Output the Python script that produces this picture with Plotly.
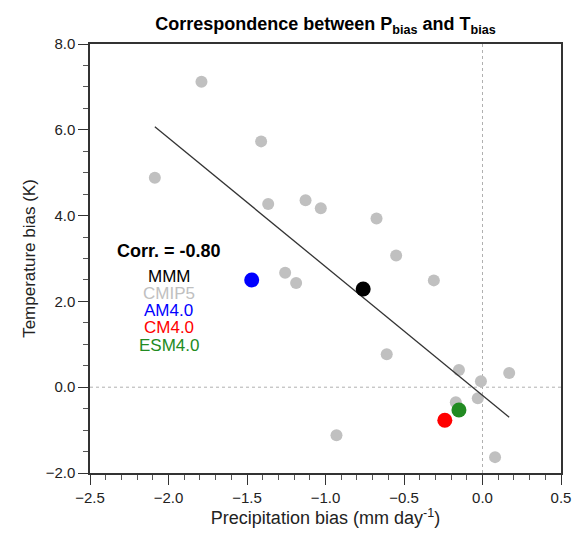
import plotly.graph_objects as go

# CMIP5 individual models
cmip5_p = [-1.79, -2.087, -1.41, -1.365, -1.127, -1.03, -0.675, -0.55, -1.257, -1.187,
           -0.31, -0.61, -0.15, 0.17, -0.01, -0.03, -0.17, -0.93, 0.08]
cmip5_t = [7.12, 4.88, 5.73, 4.27, 4.36, 4.17, 3.93, 3.07, 2.67, 2.43,
           2.49, 0.77, 0.40, 0.33, 0.14, -0.26, -0.35, -1.12, -1.63]

# Highlighted models
model_names = ["MMM", "AM4.0", "CM4.0", "ESM4.0"]
model_p = [-0.76, -1.47, -0.24, -0.15]
model_t = [2.29, 2.50, -0.77, -0.53]
model_colors = ["#000000", "#0000ff", "#ff0000", "#228b22"]

# Regression line
fit_p = [-2.087, 0.17]
fit_t = [6.07, -0.70]

corr_text = "Corr. = -0.80"
legend_names = ["MMM", "CMIP5", "AM4.0", "CM4.0", "ESM4.0"]
legend_colors = ["#000000", "#c0c0c0", "#0000ff", "#ff0000", "#228b22"]

FONT = "Liberation Sans, Arial, Helvetica, sans-serif"

fig = go.Figure()

# zero reference lines
fig.add_trace(go.Scatter(x=[-2.5, 0.5], y=[0, 0], mode="lines",
                         line=dict(color="#b0b0b0", width=1, dash="dot"),
                         hoverinfo="skip", showlegend=False))
fig.add_trace(go.Scatter(x=[0, 0], y=[-2, 8], mode="lines",
                         line=dict(color="#b0b0b0", width=1, dash="dot"),
                         hoverinfo="skip", showlegend=False))

fig.add_trace(go.Scatter(x=cmip5_p, y=cmip5_t, mode="markers",
                         marker=dict(color="#c0c0c0", size=12),
                         name="CMIP5", showlegend=False))

fig.add_trace(go.Scatter(x=fit_p, y=fit_t, mode="lines",
                         line=dict(color="#333333", width=1.3),
                         showlegend=False))

for n, px, ty, c in zip(model_names, model_p, model_t, model_colors):
    fig.add_trace(go.Scatter(x=[px], y=[ty], mode="markers",
                             marker=dict(color=c, size=15), name=n, showlegend=False))

# annotations: correlation + colored legend text
fig.add_annotation(x=-2.0, y=3.17, text="<b>" + corr_text + "</b>", showarrow=False,
                   xref="x", yref="y", font=dict(family=FONT, size=18, color="black"))
leg_y = [2.58, 2.19, 1.79, 1.39, 0.98]
for name, col, yy in zip(legend_names, legend_colors, leg_y):
    fig.add_annotation(x=-2.0, y=yy, text=name, showarrow=False, xref="x", yref="y",
                       font=dict(family=FONT, size=17, color=col))

axis_common = dict(showline=True, linecolor="#333333", linewidth=1.5, mirror=True,
                   ticks="outside", ticklen=10, tickwidth=1.3, tickcolor="#333333",
                   showgrid=False, zeroline=False, automargin=False,
                   tickfont=dict(family=FONT, size=15, color="#222222"))

fig.update_xaxes(range=[-2.5, 0.5], dtick=0.5, tickformat=".1f",
                 minor=dict(dtick=0.1, ticks="outside", ticklen=5, tickcolor="#555555", tickwidth=1),
                 title=dict(text="Precipitation bias (mm day<sup>-1</sup>)",
                            font=dict(family=FONT, size=18, color="#222222"), standoff=6),
                 **axis_common)
fig.update_yaxes(range=[-2, 8], dtick=2, tickformat=".1f",
                 minor=dict(dtick=0.5, ticks="outside", ticklen=5, tickcolor="#555555", tickwidth=1),
                 title=dict(text="Temperature bias (K)",
                            font=dict(family=FONT, size=17, color="#222222"), standoff=6),
                 **axis_common)

fig.update_layout(
    width=573, height=536,
    margin=dict(l=90, r=12, t=44, b=63),
    plot_bgcolor="white", paper_bgcolor="white",
    title=dict(text="<b>Correspondence between P<sub>bias</sub> and T<sub>bias</sub></b>",
               x=325.5 / 573, xanchor="center", y=1 - 24 / 536, yanchor="middle",
               font=dict(family=FONT, size=18, color="black")),
    showlegend=False,
)

fig.write_html("out.html", config={"displayModeBar": False},
               post_script="document.body.style.margin='0';document.body.style.padding='0';document.body.style.overflow='hidden';")
